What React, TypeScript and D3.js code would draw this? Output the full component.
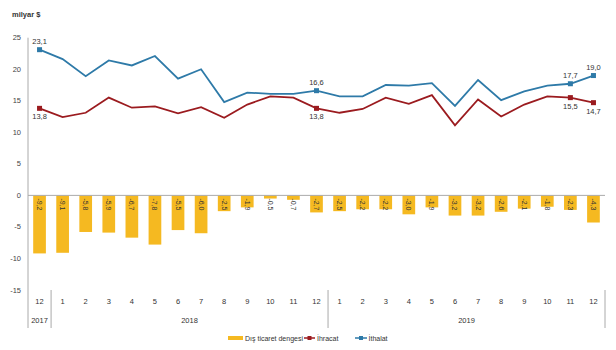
import * as d3 from "d3";

const months = ["12", "1", "2", "3", "4", "5", "6", "7", "8", "9", "10", "11", "12", "1", "2", "3", "4", "5", "6", "7", "8", "9", "10", "11", "12"];
const years = [
  { label: "2017", from: 0, to: 1 },
  { label: "2018", from: 1, to: 13 },
  { label: "2019", from: 13, to: 25 },
];
const balance = [-9.2, -9.1, -5.8, -5.9, -6.7, -7.8, -5.5, -6.0, -2.5, -1.9, -0.5, -0.7, -2.7, -2.5, -2.2, -2.2, -3.0, -1.9, -3.2, -3.2, -2.6, -2.1, -1.8, -2.3, -4.3];
const exports_ = [13.8, 12.4, 13.1, 15.5, 13.9, 14.1, 13.0, 14.0, 12.3, 14.4, 15.7, 15.5, 13.8, 13.1, 13.7, 15.5, 14.5, 15.9, 11.1, 15.2, 12.5, 14.4, 15.7, 15.5, 14.7];
const imports_ = [23.1, 21.6, 18.9, 21.4, 20.6, 22.1, 18.5, 20.0, 14.8, 16.3, 16.1, 16.1, 16.6, 15.7, 15.7, 17.5, 17.4, 17.8, 14.2, 18.3, 15.1, 16.5, 17.4, 17.7, 19.0];
const markedIdx = [0, 12, 23, 24];
const yTicks = [25, 20, 15, 10, 5, 0, -5, -10, -15];

const BAR = "#F5B921";
const RED = "#9B1B1F";
const BLUE = "#2E7AA8";
const FONT = "'Liberation Sans', Arial, sans-serif";

const fmt = (v: number) => v.toFixed(1).replace(".", ",");

export default function App() {
  const W = 616;
  const H = 350;
  const left = 28;
  const right = 605;
  const x = d3
    .scaleBand<number>()
    .domain(d3.range(months.length))
    .range([left, right])
    .paddingInner(0.45)
    .paddingOuter(0.225);
  const y = d3.scaleLinear().domain([-15, 25]).range([290, 37.7]);
  const cx = (i: number) => (x(i) as number) + x.bandwidth() / 2;
  const step = x.step();

  const line = d3
    .line<number>()
    .x((_, i) => cx(i))
    .y((d) => y(d));

  return (
    <svg width={W} height={H} style={{ position: "absolute", left: 0, top: 0, fontFamily: FONT }}>
      <rect width={W} height={H} fill="#fff" />
      <text x={12} y={17} fontSize={7.5} fontWeight="bold" fill="#333">
        milyar $
      </text>

      {/* y axis */}
      <line x1={left} x2={left} y1={y(25)} y2={328} stroke="#aaa" strokeWidth={1} />
      {yTicks.map((t) => (
        <text key={t} x={21} y={y(t) + 2.5} fontSize={7.5} textAnchor="end" fill="#444">
          {t}
        </text>
      ))}

      {/* bars */}
      {balance.map((v, i) => (
        <rect
          key={i}
          x={x(i)}
          y={y(0)}
          width={x.bandwidth()}
          height={y(v) - y(0)}
          fill={BAR}
        />
      ))}
      <line x1={left} x2={right} y1={y(0)} y2={y(0)} stroke="#aaa" strokeWidth={1} />
      {balance.map((v, i) => (
        <text
          key={i}
          transform={`translate(${cx(i) - 2.5},${y(0) + 3}) rotate(90)`}
          fontSize={7}
          fill="#333"
        >
          {fmt(v)}
        </text>
      ))}

      {/* lines */}
      <path d={line(imports_) ?? ""} fill="none" stroke={BLUE} strokeWidth={1.8} />
      <path d={line(exports_) ?? ""} fill="none" stroke={RED} strokeWidth={1.8} />
      {markedIdx.map((i) => (
        <g key={i}>
          <rect x={cx(i) - 2.5} y={y(imports_[i]) - 2.5} width={5} height={5} fill={BLUE} />
          <rect x={cx(i) - 2.5} y={y(exports_[i]) - 2.5} width={5} height={5} fill={RED} />
          <text x={cx(i)} y={y(imports_[i]) - 6} fontSize={7.5} textAnchor="middle" fill="#333">
            {fmt(imports_[i])}
          </text>
          <text x={cx(i)} y={y(exports_[i]) + 11} fontSize={7.5} textAnchor="middle" fill="#333">
            {fmt(exports_[i])}
          </text>
        </g>
      ))}

      {/* x axis: months and years */}
      {months.map((m, i) => (
        <text key={i} x={cx(i)} y={304} fontSize={7.5} textAnchor="middle" fill="#333">
          {m}
        </text>
      ))}
      {years.map((yr) => (
        <g key={yr.label}>
          <line
            x1={left + yr.to * step}
            x2={left + yr.to * step}
            y1={290}
            y2={328}
            stroke="#aaa"
            strokeWidth={1}
          />
          <text
            x={left + ((yr.from + yr.to) / 2) * step}
            y={323}
            fontSize={7.5}
            textAnchor="middle"
            fill="#333"
          >
            {yr.label}
          </text>
        </g>
      ))}

      {/* legend */}
      <g fontSize={7} fill="#333">
        <rect x={228} y={336} width={15} height={4} fill={BAR} />
        <text x={245} y={340.5}>Dış ticaret dengesi</text>
        <line x1={304} x2={315} y1={338} y2={338} stroke={RED} strokeWidth={1.5} />
        <rect x={307.5} y={336} width={4} height={4} fill={RED} />
        <text x={317} y={340.5}>İhracat</text>
        <line x1={355} x2={367} y1={338} y2={338} stroke={BLUE} strokeWidth={1.5} />
        <rect x={359} y={336} width={4} height={4} fill={BLUE} />
        <text x={368.5} y={340.5}>İthalat</text>
      </g>
    </svg>
  );
}
